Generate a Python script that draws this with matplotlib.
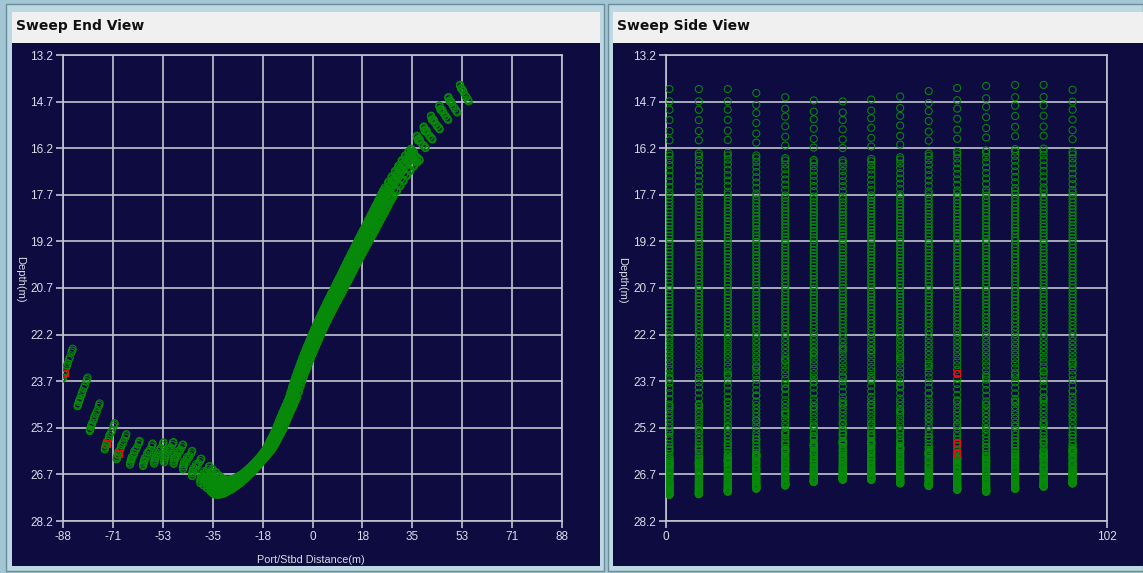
import numpy as np
import matplotlib.pyplot as plt
from matplotlib.patches import Rectangle

# reference sweep: across-track distance (m) and depth (m) of every beam
beam_across = [-87.0, -81.7, -77.4, -72.1, -67.9, -63.2, -58.6, -54.7, -51.2, -47.8,
               -44.5, -41.3,
               -38.4, -37.2, -36.0, -34.8, -34.2, -33.6, -33.0,
               -32.4, -31.8, -31.2, -30.6, -30.0, -29.4, -28.8, -28.2, -27.6, -27.0,
               -26.4, -25.8, -25.2, -24.6, -24.0, -23.4, -22.8, -22.2, -21.6, -21.0,
               -20.4, -19.8, -19.2, -18.6, -18.0, -17.4, -16.8, -16.2, -15.6, -15.0,
               -14.4, -13.8, -13.2, -12.6, -12.0, -11.4, -10.8, -10.2, -9.6, -9.0,
               -8.4, -7.8, -7.2, -6.6, -6.0, -5.4, -4.8, -4.2, -3.6, -3.0,
               -2.4, -1.8, -1.2, -0.6, 0.0, 0.6, 1.2, 1.8, 2.4, 3.0,
               3.6, 4.2, 4.8, 5.4, 6.0, 6.6, 7.2, 7.8, 8.4, 9.0,
               9.6, 10.2, 10.8, 11.4, 12.0, 12.6, 13.2, 13.8, 14.4, 15.0,
               15.6, 16.2, 16.8, 17.4, 18.0, 18.6, 19.2, 19.8, 20.4, 21.0,
               21.6, 22.2, 22.8, 23.4, 24.0, 24.6, 25.2, 25.8, 26.4, 27.0,
               28.2, 29.4, 30.6, 31.8, 33.0, 34.2, 35.4,
               36.3, 38.4, 40.8, 43.4, 46.4, 49.6, 53.7]
beam_depth = [23.20, 24.10, 24.91, 25.52, 25.85, 26.04, 26.10, 26.04, 26.01, 26.07,
              26.26, 26.49,
              26.72, 26.81, 26.90, 27.00, 27.05, 27.10, 27.11,
              27.12, 27.12, 27.11, 27.10, 27.09, 27.06, 27.03, 27.00, 26.98, 26.95,
              26.91, 26.87, 26.84, 26.80, 26.76, 26.71, 26.67, 26.62, 26.57, 26.52,
              26.47, 26.42, 26.36, 26.30, 26.25, 26.18, 26.11, 26.04, 25.97, 25.87,
              25.77, 25.66, 25.56, 25.45, 25.34, 25.20, 25.07, 24.94, 24.81, 24.69,
              24.57, 24.44, 24.32, 24.14, 23.96, 23.79, 23.63, 23.48, 23.34, 23.19,
              23.05, 22.91, 22.78, 22.65, 22.52, 22.39, 22.26, 22.14, 22.02, 21.90,
              21.79, 21.67, 21.56, 21.45, 21.34, 21.23, 21.13, 21.02, 20.92, 20.81,
              20.70, 20.59, 20.49, 20.38, 20.27, 20.16, 20.05, 19.94, 19.84, 19.73,
              19.63, 19.52, 19.42, 19.31, 19.21, 19.10, 19.00, 18.90, 18.80, 18.69,
              18.59, 18.48, 18.38, 18.27, 18.17, 18.06, 17.95, 17.84, 17.74, 17.65,
              17.47, 17.30, 17.13, 16.96, 16.79, 16.64, 16.51,
              16.43, 16.02, 15.73, 15.39, 15.07, 14.81, 14.43]

# per sweep: along-track position (m), depth scale, tilt and lateral shift (m)
sweep_along = [0.8, 7.6, 14.3, 20.9, 27.6, 34.2, 40.9, 47.5, 54.2, 60.8, 67.4, 74.1, 80.8, 87.4, 94.1]
sweep_scale = [1.0043, 1.0037, 1.0015, 1.0010, 1.0004, 0.9990, 0.9975, 0.9966,
               0.9981, 0.9975, 0.9993, 0.9999, 0.9968, 0.9948, 0.9946]
sweep_tilt = [-0.0037, -0.0035, -0.0029, -0.0004, 0.0023, 0.0046, 0.0056, 0.0047,
              0.0025, -0.0006, -0.0029, -0.0043, -0.0041, -0.0036, -0.0006]
sweep_shift = [-1.2, -1.15, -0.95, -0.1, 0.7, 1.5, 1.8, 1.55, 0.85, -0.2, -0.95, -1.4, -1.3, -1.15, -0.2]

# rejected soundings (sweep, beam)
flagged = [(10, 0), (10, 3), (10, 4)]

depth_ticks = [13.2, 14.7, 16.2, 17.7, 19.2, 20.7, 22.2, 23.7, 25.2, 26.7, 28.2]
across_ticks = [-88.4, -70.72, -53.04, -35.36, -17.68, 0.0, 17.68, 35.36, 53.04, 70.72, 88.4]
across_labels = ['-88', '-71', '-53', '-35', '-18', '0', '18', '35', '53', '71', '88']
along_ticks = [0, 102]

navy = '#0d0b40'
grid_c = '#c4c4d0'
label_c = '#dcdce6'
green = '#078a09'

W, H = 1143, 573


def box(x0, y0, x1, y1):
    # pixel box (top-left origin) -> figure fraction
    return [x0 / W, 1 - y1 / H, (x1 - x0) / W, (y1 - y0) / H]


def panel(x0, y0, x1, y1, **kw):
    b = box(x0, y0, x1, y1)
    fig.add_artist(Rectangle(b[:2], b[2], b[3], transform=fig.transFigure, zorder=-5, **kw))


# all soundings of all sweeps
across = np.array(beam_across)
depth = np.array(beam_depth)
k = np.array(sweep_scale)[:, None]
r = np.array(sweep_tilt)[:, None]
t = np.array(sweep_shift)[:, None]
X = k * across[None, :] + t
Z = k * depth[None, :] + r * across[None, :]
A = np.repeat(np.array(sweep_along)[:, None], len(beam_across), axis=1)

bad = np.zeros(X.shape, dtype=bool)
for p, b in flagged:
    bad[p, b] = True

plt.rcParams['font.family'] = ['Liberation Sans', 'DejaVu Sans']
fig = plt.figure(figsize=(W / 100, H / 100), dpi=100, facecolor='#a3c6d4')

# window frames, title bars and dark panels
for x0, x1 in [(6, 604), (608, 1143)]:
    panel(x0, 4, x1, 571, fc='#bcd8e2', ec='#6c8c99', lw=1)
for x0, x1, title in [(12, 600, 'Sweep End View'), (613, 1143, 'Sweep Side View')]:
    panel(x0, 12, x1, 43, fc='#f0f0f0', ec='none')
    panel(x0, 43, x1, 566, fc=navy, ec='none')
    fig.text((x0 + 4) / W, 1 - 26 / H, title, fontsize=10, fontweight='bold',
             family='DejaVu Sans', va='center', ha='left', color='#101010')


def style(ax, xlim, xticks, xlabels):
    ax.set_facecolor(navy)
    ax.set_xlim(*xlim)
    ax.set_ylim(28.2, 13.2)
    ax.set_xticks(xticks)
    ax.set_xticklabels(xlabels)
    ax.set_yticks(depth_ticks)
    ax.set_yticklabels(['%.1f' % v for v in depth_ticks])
    ax.grid(True, color=grid_c, lw=1.2)
    ax.set_axisbelow(True)
    ax.tick_params(color=grid_c, labelcolor=label_c, length=5, width=1.2,
                   labelsize=8.5, pad=2)
    for s in ax.spines.values():
        s.set_color(grid_c)
        s.set_linewidth(1.2)


# end view: across-track distance against depth
ax1 = fig.add_axes(box(63, 55, 562, 521))
style(ax1, (-88.4, 88.4), across_ticks, across_labels)
ax1.scatter(X[~bad], Z[~bad], s=26, facecolors='none', edgecolors=green, linewidths=0.75, zorder=3)
ax1.scatter(X[bad], Z[bad], s=22, marker='s', facecolors='none', edgecolors='#e01010',
            linewidths=0.9, zorder=4)
fig.text(311 / W, 1 - 560 / H, 'Port/Stbd Distance(m)', color=label_c, fontsize=7.8,
         ha='center', va='center')
fig.text(20 / W, 1 - 279 / H, 'Depth(m)', color=label_c, fontsize=8, rotation=-90,
         ha='center', va='center')

# side view: along-track position against depth
ax2 = fig.add_axes(box(666, 55, 1106.7, 521))
style(ax2, (0, 102), along_ticks, [str(v) for v in along_ticks])
ax2.scatter(A[~bad], Z[~bad], s=26, facecolors='none', edgecolors=green, linewidths=0.75, zorder=3)
ax2.scatter(A[bad], Z[bad], s=22, marker='s', facecolors='none', edgecolors='#e01010',
            linewidths=0.9, zorder=4)
fig.text(622 / W, 1 - 280 / H, 'Depth(m)', color=label_c, fontsize=8, rotation=-90,
         ha='center', va='center')

fig.savefig('out.png', dpi=100, facecolor=fig.get_facecolor())
